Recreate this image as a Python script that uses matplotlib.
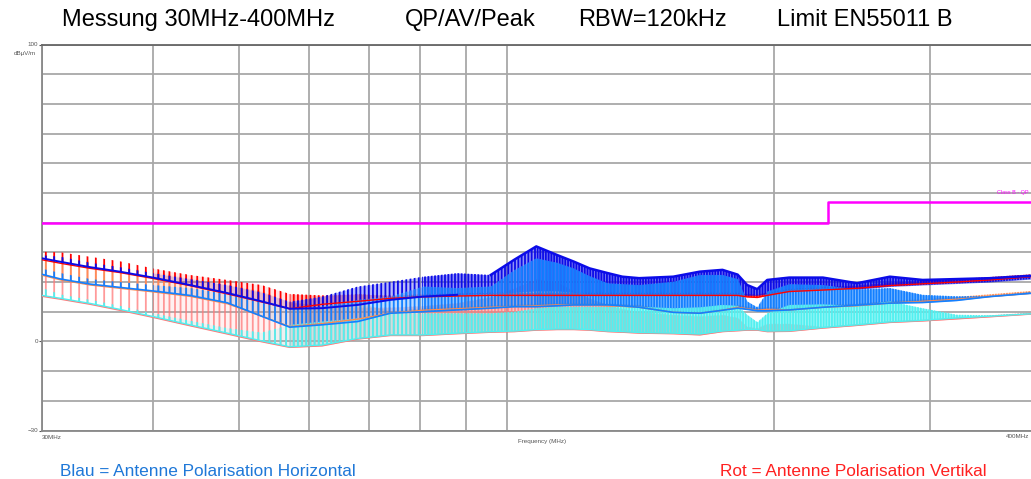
import numpy as np
import matplotlib
matplotlib.use("Agg")
import matplotlib.pyplot as plt
from matplotlib.ticker import NullFormatter

plt.rcParams['font.family'] = ['Liberation Sans', 'DejaVu Sans']
plt.rcParams['hatch.linewidth'] = 1.3

# Frequency points (MHz) at which the traces are sampled
freq_mhz = np.array([30, 31.5, 34, 36.7, 40, 44, 48.5, 53, 57, 62, 68, 74, 80.5, 88, 96,
                     102, 108, 114, 119, 124, 130, 135, 141, 154, 165, 175, 182, 186.5,
                     191.5, 196.5, 208, 227, 248, 270, 294, 321, 350, 389, 400])

# Horizontal polarisation, peak (floor / harmonic tops), dBuV/m
h_pk_lo = [28.0, 26.8, 25.0, 23.5, 21.5, 19.0, 16.3, 13.5, 11.0, 11.2, 12.3, 14.0, 15.1, 15.7, 16.2,
           16.5, 17.0, 17.0, 16.5, 16.0, 16.0, 16.0, 16.0, 16.0, 16.0, 16.0, 16.0, 15.5,
           15.5, 16.0, 17.5, 18.0, 17.5, 18.5, 19.0, 19.5, 20.0, 21.0, 21.2]
h_pk_hi = [29.0, 28.5, 26.5, 25.0, 23.0, 21.0, 19.0, 16.5, 13.4, 15.1, 18.5, 20.1, 21.8, 23.0, 22.4,
           27.5, 32.0, 29.1, 26.9, 24.6, 23.0, 21.8, 21.3, 21.8, 23.5, 24.1, 22.5, 19.0,
           17.6, 20.7, 21.5, 21.5, 19.6, 21.8, 20.7, 21.0, 21.3, 22.1, 22.3]

# Vertical polarisation, peak
v_pk_lo = [27.5, 26.3, 24.6, 23.2, 21.2, 18.8, 16.0, 13.3, 11.0, 12.5, 13.5, 14.5, 15.0, 15.3, 15.5,
           15.5, 15.5, 15.5, 15.5, 15.5, 15.5, 15.5, 15.5, 15.5, 15.5, 15.5, 15.5, 15.0,
           14.8, 15.5, 16.8, 17.3, 17.9, 18.8, 19.4, 20.0, 20.7, 21.8, 22.0]
v_pk_hi = [30.2, 30.0, 28.5, 27.0, 24.6, 22.4, 20.7, 19.0, 16.0, 15.5, 16.0, 15.5, 16.0, 16.3, 16.5,
           16.5, 16.5, 16.5, 16.5, 16.5, 16.5, 16.5, 16.5, 16.5, 16.5, 16.5, 16.5, 16.0,
           15.8, 16.5, 17.8, 18.3, 18.9, 19.8, 20.4, 21.0, 21.7, 22.6, 22.8]

# Horizontal polarisation, quasi-peak
h_qp_lo = [22.6, 21.0, 19.3, 18.2, 17.0, 15.5, 13.0, 8.5, 4.8, 5.6, 6.7, 9.5, 10.0, 10.6, 11.2,
           11.7, 11.7, 12.0, 12.3, 12.3, 12.3, 12.0, 11.5, 9.8, 9.5, 10.5, 11.2, 10.8,
           10.3, 10.3, 10.6, 11.5, 12.2, 12.9, 13.1, 13.8, 15.1, 16.2, 16.4]
h_qp_hi = [24.5, 23.0, 21.0, 20.0, 19.0, 18.0, 16.0, 13.5, 11.0, 11.7, 14.0, 15.1, 18.5, 18.0, 18.5,
           24.0, 28.0, 26.5, 24.6, 22.0, 19.6, 19.3, 19.0, 20.1, 22.4, 22.4, 21.0, 13.5,
           11.5, 16.8, 19.3, 19.0, 17.5, 18.0, 15.7, 15.2, 15.3, 16.6, 16.8]

# Vertical polarisation, quasi-peak
v_qp_lo = [22.3, 20.7, 19.0, 17.9, 16.7, 15.2, 12.7, 8.5, 5.0, 6.0, 7.5, 9.5, 10.5, 11.0, 11.5,
           11.7, 12.0, 12.3, 12.3, 12.3, 12.0, 11.8, 11.5, 9.8, 9.5, 10.5, 11.5, 11.0,
           10.5, 10.8, 10.6, 11.5, 12.0, 12.9, 13.5, 14.2, 15.1, 16.2, 16.4]
v_qp_hi = [29.5, 28.0, 26.5, 25.0, 23.0, 21.0, 19.0, 17.0, 13.0, 12.5, 13.0, 10.3, 11.3, 11.8, 12.3,
           12.5, 12.8, 13.1, 13.1, 13.1, 12.8, 12.6, 12.3, 10.6, 10.3, 11.3, 12.3, 11.8,
           11.3, 11.6, 11.4, 12.3, 12.8, 13.7, 14.3, 15.0, 15.9, 17.0, 17.2]

# Horizontal polarisation, average
h_av_lo = [15.5, 14.5, 12.8, 10.8, 8.4, 5.6, 2.8, 0.2, -1.8, -1.2, 1.0, 2.2, 2.2, 2.8, 3.3,
           3.5, 4.0, 4.2, 4.2, 4.0, 3.5, 3.3, 3.0, 2.8, 2.5, 3.5, 3.8, 4.0,
           4.0, 3.5, 3.6, 4.7, 5.6, 6.6, 7.1, 7.9, 8.5, 9.3, 9.5]
h_av_hi = [18.0, 15.8, 14.0, 12.0, 9.5, 7.0, 4.5, 3.0, 5.6, 6.7, 7.8, 9.5, 9.5, 9.5, 9.5,
           10.0, 11.2, 11.7, 11.7, 11.7, 11.7, 11.7, 11.7, 11.2, 11.5, 12.3, 12.0, 9.0,
           6.5, 9.5, 12.3, 12.5, 12.0, 13.5, 11.2, 9.0, 8.8, 9.5, 9.7]

# Vertical polarisation, average
v_av_lo = [15.2, 14.2, 12.5, 10.5, 8.1, 5.3, 2.5, -0.1, -2.0, -1.5, 0.8, 2.0, 2.0, 2.6, 3.1,
           3.3, 3.8, 4.0, 4.0, 3.8, 3.3, 3.1, 2.8, 2.6, 2.2, 3.3, 3.6, 3.8,
           3.8, 3.3, 3.4, 4.5, 5.4, 6.4, 6.9, 7.6, 8.3, 9.2, 9.4]
v_av_hi = [27.0, 27.0, 27.0, 25.0, 23.5, 21.3, 19.0, 16.8, 13.4, 12.0, 11.5, 11.5, 12.0, 13.0, 15.0,
           18.0, 21.0, 20.0, 17.0, 14.5, 12.3, 11.0, 10.0, 9.0, 8.5, 9.0, 8.0, 5.0,
           4.5, 6.0, 6.0, 5.0, 5.9, 6.9, 7.4, 8.1, 8.8, 9.7, 9.9]

# EN55011 class B quasi-peak limit
limit_freq = [30, 230, 230, 400]
limit_dbuv = [40, 40, 47, 47]

# harmonic comb gets denser towards higher frequency on the log axis;
# (start, stop, hatch, opacity of the blended fill underneath)
hatch_bands = [(30, 40, '||', 0.0), (40, 57, '|||', 0.1), (57, 80.5, '||||', 0.28),
               (80.5, 108, '|||||', 0.45), (108, 400, '||||||', 0.55)]

traces = [
    # (lo, hi, colour, hatch alpha, floor line width)
    (v_av_lo, v_av_hi, '#ff7878', 0.75, 1.0),
    (v_qp_lo, v_qp_hi, '#ff8a4c', 0.85, 1.0),
    (v_pk_lo, v_pk_hi, '#ff0000', 1.0, 1.0),
    (h_pk_lo, h_pk_hi, '#0c0ce8', 1.0, 1.4),
    (h_qp_lo, h_qp_hi, '#1480ff', 1.0, 1.2),
    (h_av_lo, h_av_hi, '#52f0f0', 1.0, 1.0),
]


def draw_comb(ax, lo, hi, color, alpha):
    rgba = matplotlib.colors.to_rgba(color, alpha)
    for f0, f1, hatch, fill_alpha in hatch_bands:
        sel = (freq_mhz >= f0) & (freq_mhz <= f1)
        if fill_alpha > 0:
            ax.fill_between(freq_mhz, lo, hi, where=sel, color=color,
                            alpha=fill_alpha, linewidth=0, zorder=2)
        ax.fill_between(freq_mhz, lo, hi, where=sel, facecolor='none',
                        edgecolor=rgba, linewidth=0, hatch=hatch, zorder=2)


fig = plt.figure(figsize=(10.31, 4.79), dpi=100)
ax = fig.add_axes([42 / 1031, 48.5 / 479, 999.5 / 1031, 386 / 479])

ax.set_xscale('log')
ax.set_xlim(30, 400)
ax.set_ylim(-30, 100)

for lo, hi, color, alpha, lw in traces:
    draw_comb(ax, lo, hi, color, alpha)

# floor lines on top of the harmonic combs
for lo, hi, color, alpha, lw in traces:
    lo = np.array(lo, dtype=float)
    if color == '#0c0ce8':
        lo = np.where(freq_mhz <= 88, lo, np.nan)
    ax.plot(freq_mhz, lo, color=color, lw=lw, zorder=3)

# upper edge of the horizontal peak trace where the comb is dense
pk_top = np.where(freq_mhz >= 96, h_pk_hi, np.nan)
ax.plot(freq_mhz, pk_top, color='#0c0ce8', lw=1.8, zorder=3)

ax.plot(limit_freq, limit_dbuv, color='#ff00ff', lw=1.8, zorder=4)
ax.text(356, 50, 'Class B - QP', color='#ff00ff', fontsize=4, va='center', ha='left')

# grid
ax.set_yticks([-30, 0, 100])
ax.set_yticks(np.arange(-30, 101, 10), minor=True)
ax.set_xticks([30, 400])
ax.set_xticks([40, 50, 60, 70, 80, 90, 100, 200, 300], minor=True)
ax.xaxis.set_major_formatter(NullFormatter())
ax.xaxis.set_minor_formatter(NullFormatter())
ax.grid(True, which='both', axis='both', color='#a8a8a8', lw=1.3, zorder=0)
ax.set_axisbelow(True)
ax.tick_params(axis='x', which='both', length=0)
ax.tick_params(axis='y', which='major', length=2, labelsize=4.5, colors='#555555', pad=1)
ax.tick_params(axis='y', which='minor', length=0)
for side in ['left', 'bottom', 'top']:
    ax.spines[side].set_color('#888888')
    ax.spines[side].set_linewidth(1.3)
ax.spines['top'].set_color('#666666')
ax.spines['right'].set_visible(False)

ax.text(30, -31.5, '30MHz', fontsize=4.5, color='#555555', ha='left', va='top')
ax.text(1029 / 1031, 1 - 437 / 479, '400MHz', transform=fig.transFigure, fontsize=4.5,
        color='#555555', ha='right', va='center')
ax.text(0.5, -0.022, 'Frequency (MHz)', transform=ax.transAxes, fontsize=4.5,
        color='#555555', ha='center', va='top')
fig.text(36 / 1031, 1 - 53 / 479, 'dB\u00b5V/m', fontsize=4.5, color='#555555',
         ha='right', va='center')

# header line
title_parts = [(62, 'Messung 30MHz-400MHz'), (405, 'QP/AV/Peak'),
               (578, 'RBW=120kHz'), (777, 'Limit EN55011 B')]
for x, s in title_parts:
    fig.text(x / 1031, 1 - 20 / 479, s, fontsize=17, color='black', ha='left', va='center')

fig.text(60 / 1031, 1 - 472 / 479, 'Blau = Antenne Polarisation Horizontal',
         fontsize=12.4, color='#1f78d8', ha='left', va='center')
fig.text(720 / 1031, 1 - 472 / 479, 'Rot = Antenne Polarisation Vertikal',
         fontsize=12.4, color='#ff2020', ha='left', va='center')

fig.savefig('out.png', dpi=100)
